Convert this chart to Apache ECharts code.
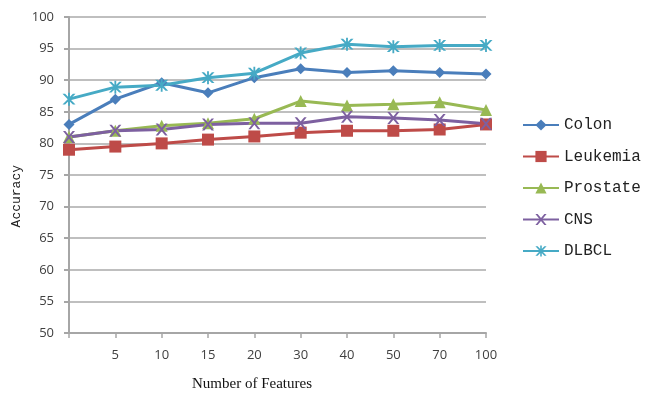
<!DOCTYPE html>
<html><head><meta charset="utf-8">
<script src="https://cdn.jsdelivr.net/npm/echarts@6/dist/echarts.min.js"></script>
<style>html,body{margin:0;padding:0;background:#fff}#c{width:645px;height:403px}</style>
</head><body><div id="c"></div>
<script>
const categories = ['', '5', '10', '15', '20', '30', '40', '50', '70', '100'];
const colon    = [83.0, 87.0, 89.6, 88.0, 90.4, 91.8, 91.2, 91.5, 91.2, 91.0];
const leukemia = [79.0, 79.5, 80.0, 80.6, 81.1, 81.7, 82.0, 82.0, 82.2, 83.0];
const prostate = [81.0, 82.0, 82.8, 83.2, 83.9, 86.7, 86.0, 86.2, 86.5, 85.3];
const cns      = [81.0, 82.0, 82.2, 83.0, 83.2, 83.2, 84.2, 84.0, 83.7, 83.1];
const dlbcl    = [87.0, 88.9, 89.2, 90.4, 91.1, 94.3, 95.7, 95.3, 95.5, 95.5];
const yTicks = [50, 55, 60, 65, 70, 75, 80, 85, 90, 95, 100];

const xPath = 'path://M0,0 L2,0 L5,3.6 L8,0 L10,0 L6,5 L10,10 L8,10 L5,6.4 L2,10 L0,10 L4,5 Z';
const starPath = 'path://M0,0 L2,0 L5,3.6 L8,0 L10,0 L6,5 L10,10 L8,10 L5,6.4 L2,10 L0,10 L4,5 Z M4.3,-1 L5.7,-1 L5.7,11 L4.3,11 Z';

const mono = '"Liberation Mono", "DejaVu Sans Mono", monospace';
const sans = '"Open Sans", "Liberation Sans", sans-serif';

function mk(name, data, color, symbol, size) {
  return {
    name, type: 'line', data, symbol, symbolSize: size,
    lineStyle: { color, width: 3 },
    itemStyle: { color, borderWidth: 0 },
    emphasis: { disabled: true }, animation: false
  };
}

const chart = echarts.init(document.getElementById('c'));
chart.setOption({
  animation: false,
  grid: { left: 69, right: 159, top: 17, bottom: 70, containLabel: false },
  legend: {
    orient: 'vertical', left: 517, top: 112, itemGap: 15.5,
    itemWidth: 36, itemHeight: 14,
    textStyle: { fontFamily: mono, fontSize: 16, color: '#222' },
    data: ['Colon', 'Leukemia', 'Prostate', 'CNS', 'DLBCL']
  },
  xAxis: {
    type: 'category', data: categories, boundaryGap: false,
    axisLine: { lineStyle: { color: '#a6a6a6', width: 2 } },
    axisTick: { show: true, length: 5, lineStyle: { color: '#a6a6a6', width: 1.5 } },
    axisLabel: { fontFamily: sans, fontSize: 13, color: '#404040', margin: 16 },
    splitLine: { show: false }
  },
  yAxis: {
    type: 'value', min: 50, max: 100, interval: 5,
    axisLine: { show: true, lineStyle: { color: '#a6a6a6', width: 2 } },
    axisTick: { show: true, length: 5, lineStyle: { color: '#a6a6a6', width: 2 } },
    axisLabel: { fontFamily: sans, fontSize: 13, color: '#404040', margin: 15 },
    splitLine: { show: true, lineStyle: { color: '#bfbfbf', width: 2 } }
  },
  graphic: [
    { type: 'text', left: 10, top: 165, rotation: Math.PI / 2,
      style: { text: 'Accuracy', font: '13px ' + mono, fill: '#222' } },
    { type: 'text', left: 192, top: 377,
      style: { text: 'Number of Features', font: '15px "Liberation Serif", serif', fill: '#111' } }
  ],
  series: [
    mk('Colon', colon, '#4a7ebb', 'diamond', 11),
    mk('Leukemia', leukemia, '#be4b48', 'rect', 12),
    mk('Prostate', prostate, '#98b954', 'triangle', 12),
    mk('CNS', cns, '#7d60a0', xPath, 12),
    mk('DLBCL', dlbcl, '#46aac5', starPath, 13)
  ]
});
</script></body></html>
